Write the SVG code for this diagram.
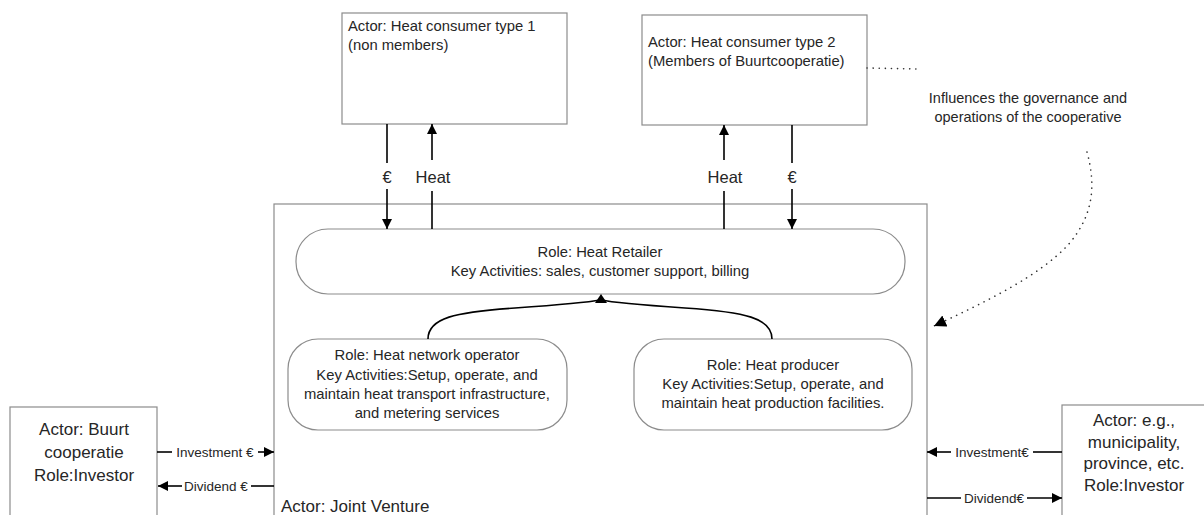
<svg xmlns="http://www.w3.org/2000/svg" width="1204" height="515" viewBox="0 0 1204 515">
<defs>
<marker id="ah" viewBox="0 0 10 10" refX="10" refY="5" markerWidth="10" markerHeight="10" markerUnits="userSpaceOnUse" orient="auto">
<path d="M0,0 L10,5 L0,10 z" fill="#000"/>
</marker>
<marker id="ah2" viewBox="0 0 10 10" refX="10" refY="5" markerWidth="12" markerHeight="12" markerUnits="userSpaceOnUse" orient="auto">
<path d="M0,0 L10,5 L0,10 z" fill="#000"/>
</marker>
<style>
.box{fill:#fff;stroke:#8c8c8c;stroke-width:1.2}
.t{font-family:"Liberation Sans",Arial,sans-serif;fill:#262626}
.c{text-anchor:middle}
.s14{font-size:14.8px}
.s13{font-size:13.5px}
.s145{font-size:14.5px}
.s16{font-size:16.5px}
.s17{font-size:17px}
.ln{stroke:#000;stroke-width:1.6;fill:none}
.dot{stroke:#333;stroke-width:1.6;fill:none;stroke-dasharray:0.1 6;stroke-linecap:round}
</style>
</defs>
<rect width="1204" height="515" fill="#fff"/>

<g id="joint-venture">
<rect class="box" x="274" y="204" width="653" height="320"/>
<text class="t s17" x="281" y="512">Actor: Joint Venture</text>
</g>

<g id="consumer1">
<rect class="box" x="342" y="13" width="225" height="111"/>
<text class="t s14" x="348" y="31">Actor: Heat consumer type 1</text>
<text class="t s14" x="348" y="50">(non members)</text>
</g>

<g id="consumer2">
<rect class="box" x="642" y="15" width="225" height="110"/>
<text class="t s14" x="648" y="47">Actor: Heat consumer type 2</text>
<text class="t s14" x="648" y="66">(Members of Buurtcooperatie)</text>
</g>

<g id="influence-note">
<text class="t s145 c" x="1028" y="103">Influences the governance and</text>
<text class="t s145 c" x="1028" y="122">operations of the cooperative</text>
</g>

<g id="retailer">
<rect class="box" x="296" y="229" width="609" height="65" rx="32" ry="32"/>
<text class="t s14 c" x="600" y="257">Role: Heat Retailer</text>
<text class="t s14 c" x="600" y="276">Key Activities: sales, customer support, billing</text>
</g>

<g id="network-operator">
<rect class="box" x="288" y="339" width="279" height="91" rx="30" ry="30"/>
<text class="t s14 c" x="427" y="360">Role: Heat network operator</text>
<text class="t s14 c" x="427" y="380">Key Activities:Setup, operate, and</text>
<text class="t s14 c" x="427" y="399">maintain heat transport infrastructure,</text>
<text class="t s14 c" x="427" y="418">and metering services</text>
</g>

<g id="producer">
<rect class="box" x="634" y="339" width="278" height="91" rx="30" ry="30"/>
<text class="t s14 c" x="773" y="370">Role: Heat producer</text>
<text class="t s14 c" x="773" y="389">Key  Activities:Setup, operate, and</text>
<text class="t s14 c" x="773" y="408">maintain heat production facilities.</text>
</g>

<g id="investor-left">
<rect class="box" x="10" y="407" width="147" height="120"/>
<text class="t s17 c" x="84" y="435">Actor: Buurt</text>
<text class="t s17 c" x="84" y="458">cooperatie</text>
<text class="t s17 c" x="84" y="481">Role:Investor</text>
</g>

<g id="investor-right">
<rect class="box" x="1062" y="405" width="150" height="120"/>
<text class="t s17 c" x="1134" y="426">Actor: e.g.,</text>
<text class="t s17 c" x="1134" y="448">municipality,</text>
<text class="t s17 c" x="1134" y="469">province, etc.</text>
<text class="t s17 c" x="1134" y="491">Role:Investor</text>
</g>

<g id="connectors">
<!-- consumer 1 -->
<line class="ln" x1="387" y1="124" x2="387" y2="163"/>
<line class="ln" x1="387" y1="189" x2="387" y2="229" marker-end="url(#ah)"/>
<text class="t s16 c" x="387" y="183">€</text>
<line class="ln" x1="432" y1="229" x2="432" y2="191"/>
<line class="ln" x1="432" y1="160" x2="432" y2="124" marker-end="url(#ah)"/>
<text class="t s16 c" x="433" y="183">Heat</text>
<!-- consumer 2 -->
<line class="ln" x1="724" y1="229" x2="724" y2="191"/>
<line class="ln" x1="724" y1="160" x2="724" y2="125" marker-end="url(#ah)"/>
<text class="t s16 c" x="725" y="183">Heat</text>
<line class="ln" x1="792" y1="125" x2="792" y2="163"/>
<line class="ln" x1="792" y1="189" x2="792" y2="229" marker-end="url(#ah)"/>
<text class="t s16 c" x="792" y="183">€</text>
<!-- roles to retailer -->
<path class="ln" d="M428,339 C428,318 455,312 515,308 C572,304 590,302 600,300"/>
<path class="ln" d="M772,339 C772,318 745,312 685,308 C628,304 610,302 602,300"/>
<path d="M601,294 L607,303 L595,303 z" fill="#000"/>
<!-- influence -->
<path class="dot" d="M867,68 L918,69"/>
<path class="dot" d="M1087,152 C1096,185 1094,215 1068,245 C1040,275 990,300 934,326" marker-end="url(#ah2)"/>
<!-- left investor -->
<line class="ln" x1="157" y1="452" x2="172" y2="452"/>
<line class="ln" x1="258" y1="452" x2="274" y2="452" marker-end="url(#ah)"/>
<text class="t s13 c" x="215" y="457">Investment €</text>
<line class="ln" x1="182" y1="486" x2="158" y2="486" marker-end="url(#ah)"/>
<line class="ln" x1="251" y1="486" x2="274" y2="486"/>
<text class="t s13 c" x="216" y="491">Dividend €</text>
<!-- right investor -->
<line class="ln" x1="1062" y1="452" x2="1033" y2="452"/>
<line class="ln" x1="951" y1="452" x2="927" y2="452" marker-end="url(#ah)"/>
<text class="t s13 c" x="992" y="457">Investment€</text>
<line class="ln" x1="927" y1="498" x2="961" y2="498"/>
<line class="ln" x1="1027" y1="498" x2="1062" y2="498" marker-end="url(#ah)"/>
<text class="t s13 c" x="994" y="503">Dividend€</text>
</g>
</svg>
